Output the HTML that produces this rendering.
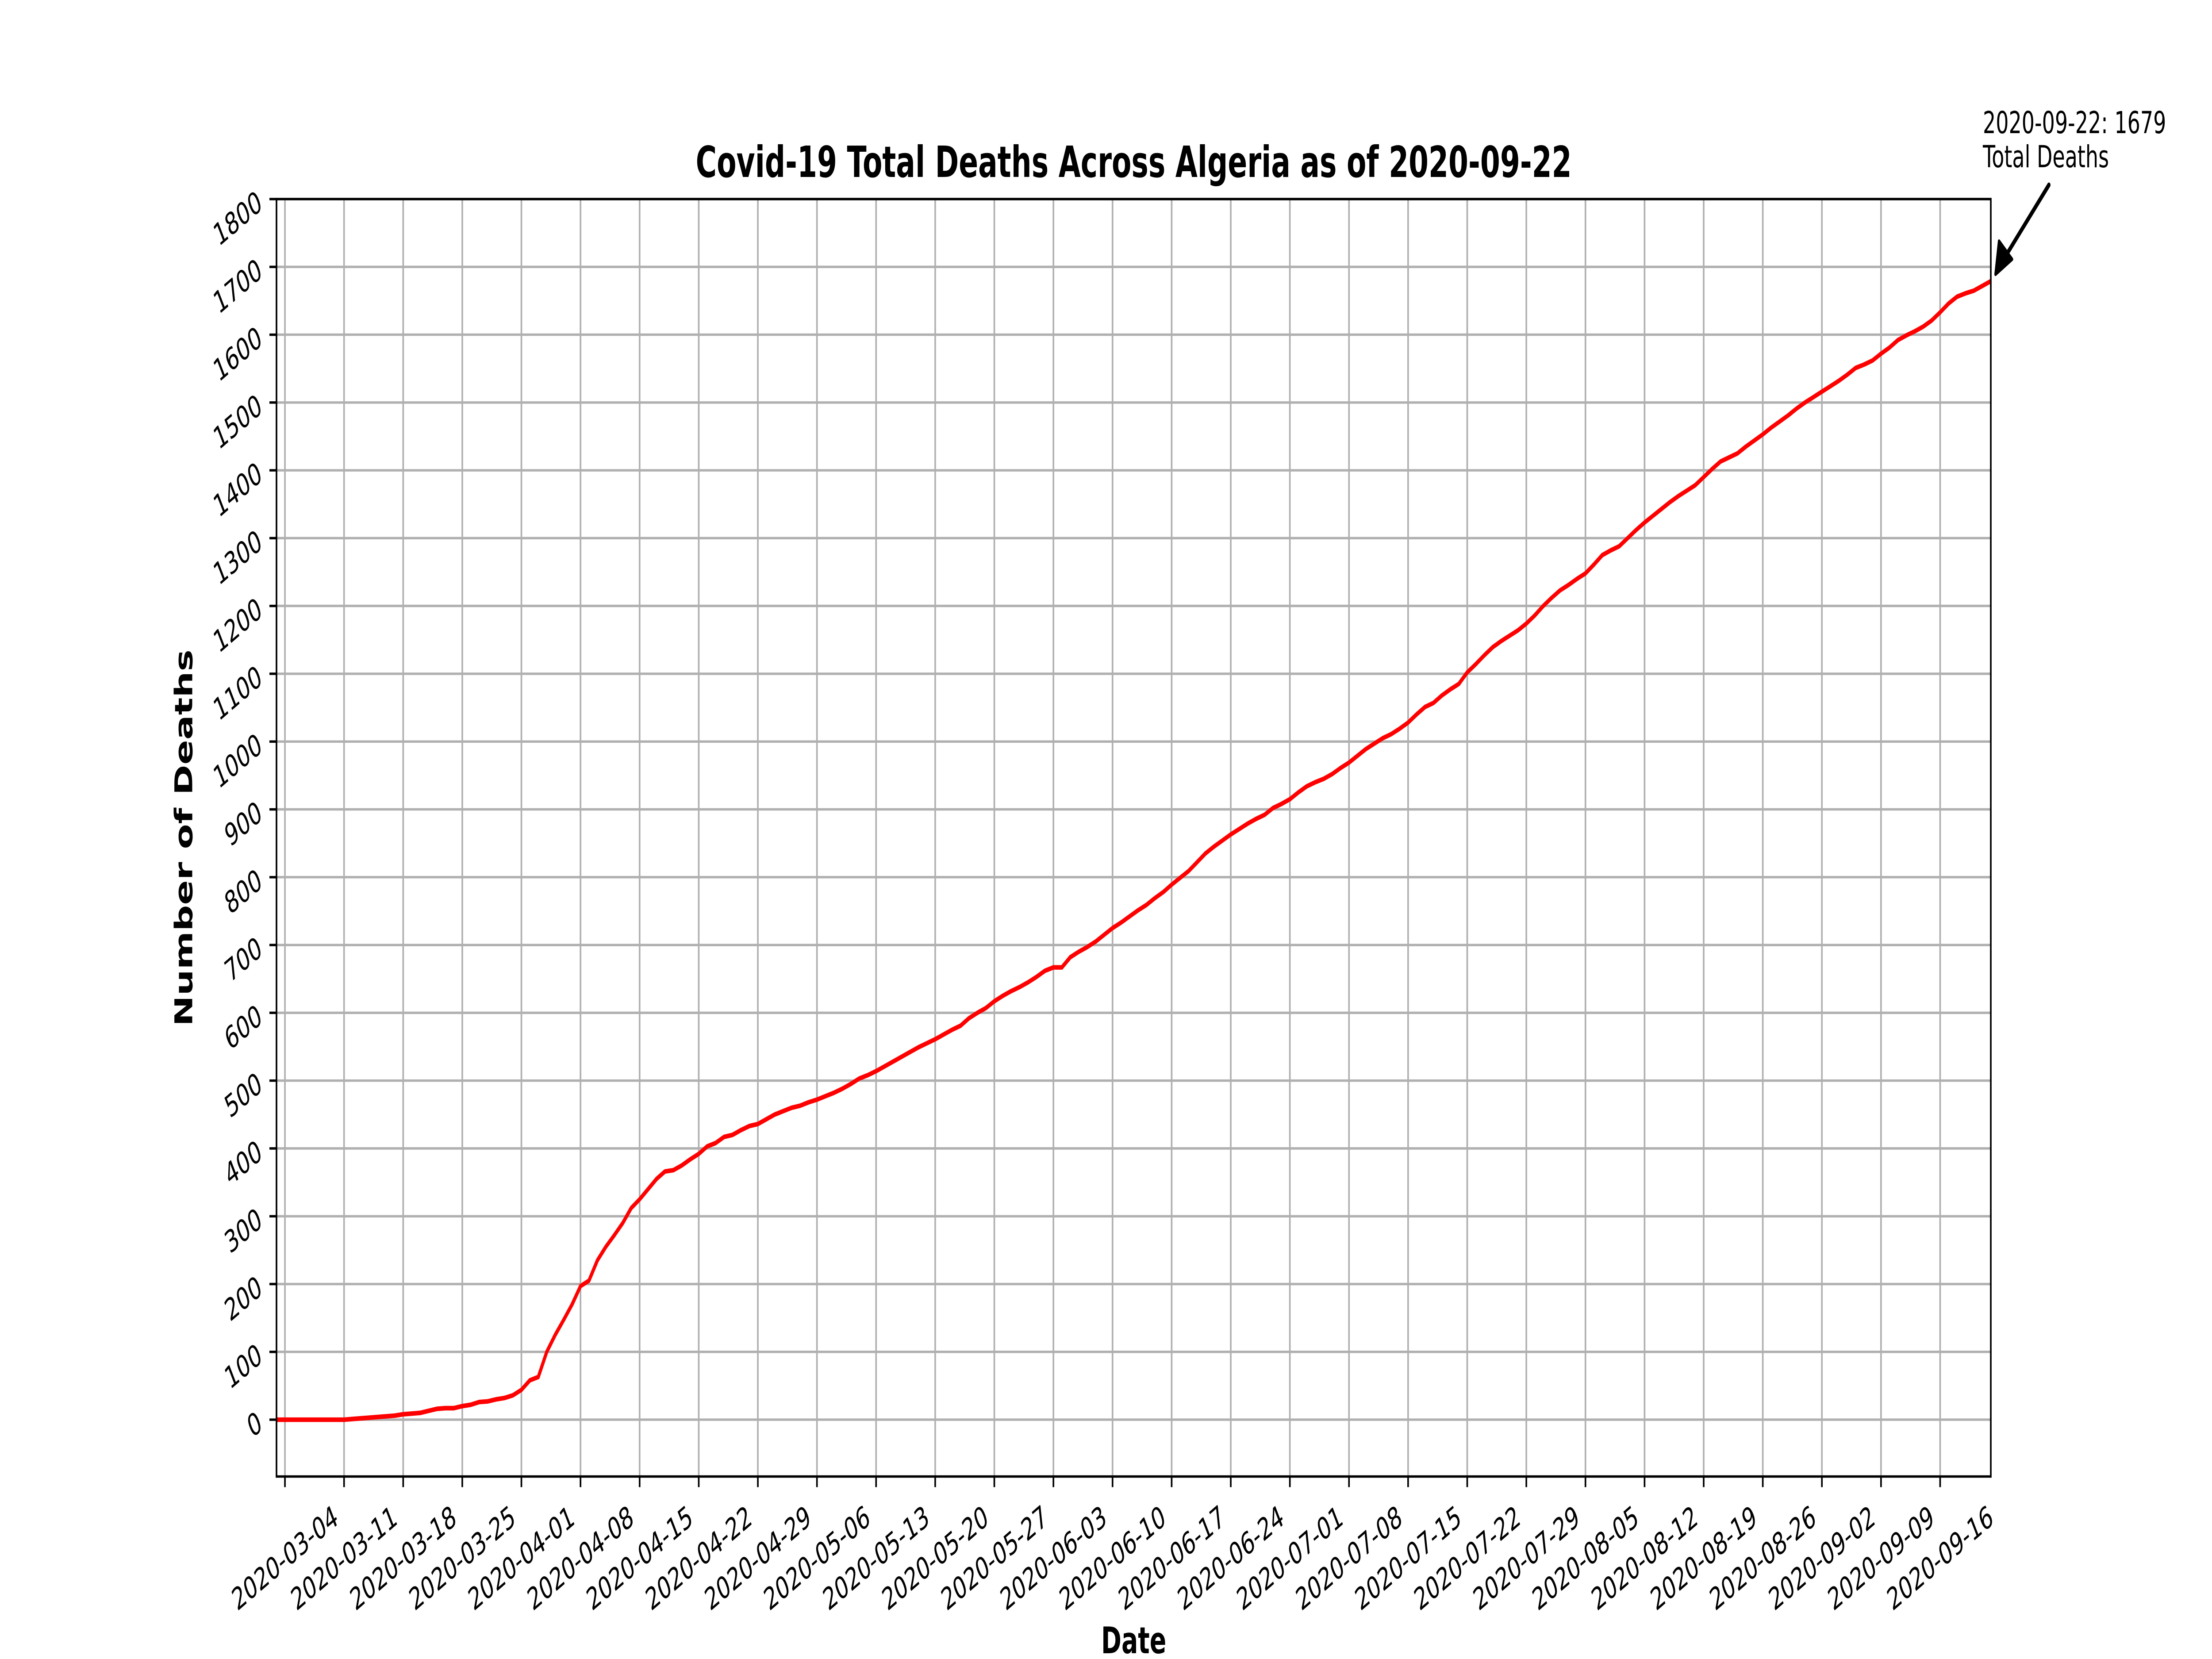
<!DOCTYPE html>
<html><head><meta charset="utf-8"><style>
html,body{margin:0;padding:0;background:#fff;width:100%;height:100%;overflow:hidden;}
svg{display:block;width:100vw;height:100vh;font-family:"DejaVu Sans","Liberation Sans",sans-serif;}
</style></head><body>
<svg id="chart" viewBox="0 0 7500 3750" preserveAspectRatio="none" xmlns="http://www.w3.org/2000/svg">
<rect width="7500" height="3750" fill="#fff"/>
<g id="grid"></g>
<g id="series"></g>
<g id="axes"></g>
<text x="3844" y="400" font-size="97" font-weight="bold" text-anchor="middle">Covid-19 Total Deaths Across Algeria as of 2020-09-22</text>
<text x="3844" y="3737" font-size="83" font-weight="bold" text-anchor="middle">Date</text>
<text transform="translate(652,1894) rotate(-90)" font-size="83" font-weight="bold" text-anchor="middle">Number of Deaths</text>
<g>
<text x="6723" y="301" font-size="69">2020-09-22: 1679</text>
<text x="6723" y="378" font-size="69">Total Deaths</text>
<line x1="6947" y1="418" x2="6790" y2="590" stroke="#000" stroke-width="11" stroke-linecap="round"/>
<polygon points="6766,620 6778,545 6822,586" fill="#000" stroke="#000" stroke-width="8" stroke-linejoin="round"/>
</g>
</svg>
<script>
const startDate = "2020-03-03";
const deaths = [
0,0,0,0,0,0,0,0,0,
1,2,3,4,5,6,8,9,10,13,16,17,17,20,22,26,27,30,32,36,
44,58,63,100,125,147,170,197,205,235,255,272,290,312,325,340,355,366,368,375,384,392,403,408,417,420,427,433,436,443,
450,455,460,463,468,472,477,482,488,495,503,508,514,521,528,535,542,549,555,561,568,575,581,592,600,607,617,625,632,638,645,
653,662,667,667,682,690,697,705,715,725,733,742,751,759,769,778,789,799,809,822,835,845,854,863,871,879,886,892,902,908,
915,925,934,940,945,952,961,969,979,989,997,1005,1011,1019,1028,1040,1051,1057,1068,1077,1085,1102,1114,1127,1139,1148,1156,1164,1174,1186,1200,
1212,1223,1231,1240,1248,1261,1275,1282,1288,1300,1312,1323,1333,1343,1353,1362,1370,1378,1390,1402,1413,1419,1425,1435,1444,1453,1463,1472,1481,1491,1500,
1508,1516,1524,1532,1541,1551,1556,1562,1572,1581,1592,1599,1605,1612,1621,1633,1646,1656,1661,1665,1672,1679
];
const xTickLabels = ["2020-03-04","2020-03-11","2020-03-18","2020-03-25","2020-04-01","2020-04-08","2020-04-15","2020-04-22","2020-04-29","2020-05-06","2020-05-13","2020-05-20","2020-05-27","2020-06-03","2020-06-10","2020-06-17","2020-06-24","2020-07-01","2020-07-08","2020-07-15","2020-07-22","2020-07-29","2020-08-05","2020-08-12","2020-08-19","2020-08-26","2020-09-02","2020-09-09","2020-09-16"];
const yTicks = [0,100,200,300,400,500,600,700,800,900,1000,1100,1200,1300,1400,1500,1600,1700,1800];

const NS = "http://www.w3.org/2000/svg";
const L = 937.5, R = 6750, T = 450, B = 3337.5;
const Y0 = -83.8, Y1 = 1800;
const DAY = 86400000;
const t0 = Date.parse(startDate);
const nDays = deaths.length - 1;
function xDay(d){ return L + d * (R - L) / nDays; }
function xDate(s){ return xDay((Date.parse(s) - t0) / DAY); }
function yv(v){ return B - (v - Y0) * (B - T) / (Y1 - Y0); }
function mk(tag, attrs, parent){ const e = document.createElementNS(NS, tag); for (const k in attrs) e.setAttribute(k, attrs[k]); parent.appendChild(e); return e; }

const grid = document.getElementById('grid');
const axes = document.getElementById('axes');
const series = document.getElementById('series');

yTicks.forEach(v => {
  const y = yv(v);
  const g = mk('line', {x1:L, x2:R, y1:y, y2:y, stroke:'#b0b0b0', 'stroke-width':5.5}, grid);
  
  
  const tk = mk('line', {x1:L-24, x2:L, y1:y, y2:y, stroke:'#000', 'stroke-width':5.5}, axes);
  
  
  const tx = mk('text', {x:882, y:y, 'font-size':69, 'text-anchor':'end', 'dominant-baseline':'central', transform:`rotate(-30 882 ${y})`}, axes);
  tx.textContent = String(v);
  
  
});

xTickLabels.forEach(s => {
  const x = xDate(s);
  const g = mk('line', {x1:x, x2:x, y1:T, y2:B, stroke:'#b0b0b0', 'stroke-width':5.5}, grid);
  
  
  const tk = mk('line', {x1:x, x2:x, y1:B, y2:B+24, stroke:'#000', 'stroke-width':5.5}, axes);
  
  
  const cy = 3522;
  const tx = mk('text', {x:x, y:cy, 'font-size':69, 'text-anchor':'middle', 'dominant-baseline':'central', transform:`rotate(-30 ${x} ${cy})`}, axes);
  tx.textContent = s;
  
  
});

const pts = deaths.map((v, i) => xDay(i).toFixed(1) + ',' + yv(v).toFixed(1)).join(' ');
const line = mk('polyline', {points:pts, fill:'none', stroke:'#ff0000', 'stroke-width':10.4, 'stroke-linejoin':'round', 'stroke-linecap':'butt'}, series);



const frame = mk('rect', {x:L, y:T, width:R-L, height:B-T, fill:'none', stroke:'#000', 'stroke-width':5.5}, axes);


</script>
</body></html>
